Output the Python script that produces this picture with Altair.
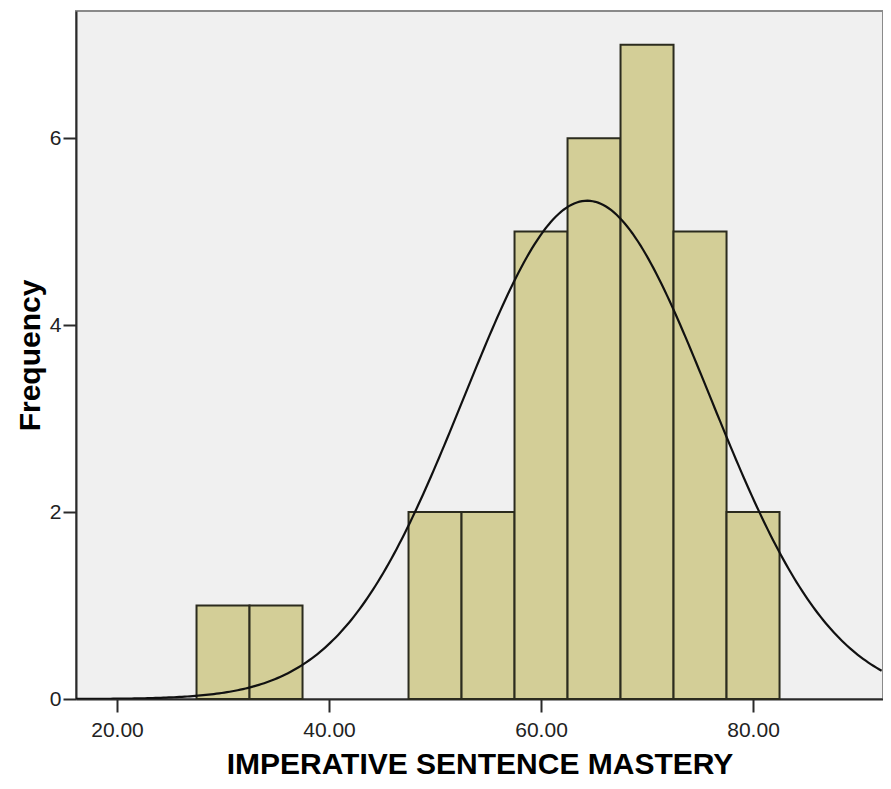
import altair as alt
import pandas as pd

# Histogram bins (left edges, width 5) and frequencies
bin_start = [27.5, 32.5, 47.5, 52.5, 57.5, 62.5, 67.5, 72.5, 77.5]
bin_width = 5.0
counts = [1, 1, 2, 2, 5, 6, 7, 5, 2]

# Normal curve parameters (fitted)
mean_val = 64.35
sd_val = 11.6
n_val = 31

x_ticks = [20, 40, 60, 80]
y_ticks = [0, 2, 4, 6]
x_domain = [16.13, 92.26]
y_domain = [0, 7.36]

bars = pd.DataFrame({
    "start": bin_start,
    "end": [s + bin_width for s in bin_start],
    "count": counts,
})

FONT = "Liberation Sans"
DARK = "#2a2a2a"

x_scale = alt.Scale(domain=x_domain, nice=False, zero=False)
y_scale = alt.Scale(domain=y_domain, nice=False, zero=True)

x_axis = alt.Axis(
    values=x_ticks, format=".2f", title="IMPERATIVE SENTENCE MASTERY",
    grid=False, tickSize=13, tickWidth=2, tickColor=DARK,
    domainColor=DARK, domainWidth=2, labelPadding=7, labelFontSize=21,
    labelColor="#222222", labelFont=FONT, titleFont=FONT, titleFontSize=30,
    titleFontWeight="bold", titleColor="#000000", titlePadding=9,
)
y_axis = alt.Axis(
    values=y_ticks, format="d", title="Frequency",
    grid=False, tickSize=13, tickWidth=2, tickColor=DARK,
    domainColor=DARK, domainWidth=2, labelPadding=2, labelFontSize=21,
    labelColor="#222222", labelFont=FONT, titleFont=FONT, titleFontSize=30,
    titleFontWeight="bold", titleColor="#000000", titlePadding=4,
)

hist = alt.Chart(bars).mark_rect(
    fill="#d3ce97", stroke="#2b2b1e", strokeWidth=2
).encode(
    x=alt.X("start:Q", scale=x_scale, axis=x_axis),
    x2="end:Q",
    y=alt.Y("count:Q", scale=y_scale, axis=y_axis),
    y2=alt.datum(0),
)

curve = alt.Chart(alt.sequence(x_domain[0], x_domain[1] + 0.1, 0.25, as_="x")).transform_calculate(
    y=f"{n_val}*{bin_width}/({sd_val}*sqrt(2*PI))*exp(-pow(datum.x-{mean_val},2)/(2*{sd_val}*{sd_val}))"
).mark_line(color="#111111", strokeWidth=2.2, clip=True).encode(
    x=alt.X("x:Q", scale=x_scale, axis=x_axis),
    y=alt.Y("y:Q", scale=y_scale, axis=y_axis),
)

chart = alt.layer(hist, curve).properties(
    width=807, height=688,
    autosize=alt.AutoSizeParams(type="none"),
    padding={"left": 68, "top": 3, "right": 0, "bottom": 82},
    background="#ffffff",
).configure_view(
    fill="#f0f0f0", stroke="#8a8a8a", strokeWidth=2
)

chart.save("out.html", embed_options={"renderer": "svg", "actions": False})
